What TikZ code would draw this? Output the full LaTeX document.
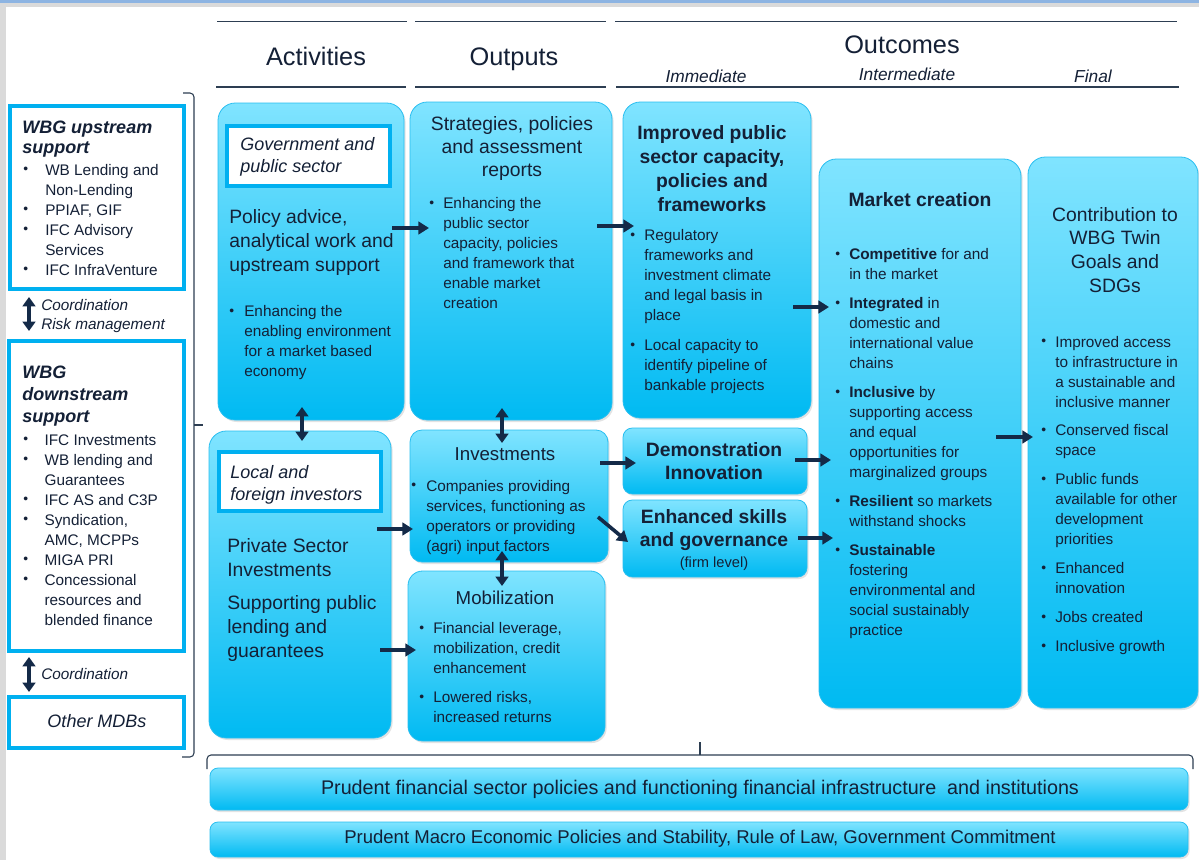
\documentclass[tikz,border=0pt]{standalone}
\usepackage{fontspec}
\usepackage{graphicx}
\setmainfont{Liberation Sans}
\usetikzlibrary{fit,shadows,arrows.meta}

\definecolor{ink}{RGB}{20,32,54}
\definecolor{arrowc}{RGB}{20,42,72}
\definecolor{framec}{RGB}{0,176,240}
\definecolor{boxtop}{RGB}{128,228,255}
\definecolor{boxbot}{RGB}{0,186,242}
\definecolor{boxline}{RGB}{40,190,240}
\definecolor{rulec}{RGB}{45,62,82}
\definecolor{graybg}{RGB}{218,218,218}
\definecolor{topblue}{RGB}{141,180,226}

\newcommand{\setfs}[2]{\fontsize{#1}{#2}\selectfont}
\newcommand{\sbul}{\raisebox{0.08em}{\scalebox{0.9}{\textbullet}}}
\newcommand{\blist}[2]{\def\bu{\makebox[#1][l]{\sbul}}\begin{tabular}[t]{@{}l@{}l@{}}#2\end{tabular}}
\newcommand{\tabl}[1]{\begin{tabular}[t]{@{}l@{}}#1\end{tabular}}
\newcommand{\tabc}[1]{\begin{tabular}[t]{@{}c@{}}#1\end{tabular}}

\tikzset{
  cbox/.style={rounded corners=11pt, draw=boxline, line width=0.6pt,
    top color=boxtop, bottom color=boxbot, inner sep=0pt,
    drop shadow={opacity=0.22, shadow xshift=1.2pt, shadow yshift=-1.5pt}},
  sbox/.style={cbox, rounded corners=7pt},
  frm/.style={draw=framec, line width=2.8pt, fill=white, inner sep=0pt},
  txt/.style={text=ink, inner sep=0pt},
  body/.style={txt, font=\setfs{11.5}{15}},
  arr/.style={draw=arrowc, line width=2.7pt, -{Triangle[length=8pt,width=9.5pt]}},
  darr/.style={draw=arrowc, line width=2.7pt, {Triangle[length=7pt,width=9.5pt]}-{Triangle[length=7pt,width=9.5pt]}},
  rul/.style={draw=rulec, line width=1.3pt},
  brk/.style={draw=rulec, line width=0.8pt}
}

\begin{document}
\begin{tikzpicture}[x=0.75pt,y=-0.75pt]
\useasboundingbox (0,0) rectangle (1199,860);
\fill[graybg] (0,0) rectangle (1199,860);
\fill[white] (6,7) rectangle (1199,860);
\fill[topblue] (0,0) rectangle (1199,3);

% ---------- header ----------
\draw[rul] (217,21.5) -- (407,21.5);
\draw[rul] (216,87) -- (406,87);
\draw[rul] (415,21.5) -- (606,21.5);
\draw[rul] (415,87) -- (606,87);
\draw[rul] (615,21.5) -- (1177,21.5);
\draw[rul] (616,87) -- (1179,87);
\node[txt, anchor=base, font=\setfs{19}{22}] (hAct) at (316,65) {Activities};
\node[txt, anchor=base, font=\setfs{19}{22}] (hOut) at (514,65) {Outputs};
\node[txt, anchor=base, font=\setfs{19}{22}] (hOc) at (902,53) {Outcomes};
\node[txt, anchor=base, font=\setfs{13}{15}\itshape] (hImm) at (706,82) {Immediate};
\node[txt, anchor=base, font=\setfs{13}{15}\itshape] (hInt) at (907,80) {Intermediate};
\node[txt, anchor=base, font=\setfs{13}{15}\itshape] (hFin) at (1093,82) {Final};

% ---------- left column ----------
\node[frm, fit={(10,106) (184,289)}] (up) {};
\node[txt, anchor=base west, font=\setfs{13.5}{15}\bfseries\itshape] (upT) at (22,133) {\tabl{WBG upstream\\support}};
\node[body, anchor=base west] (upL) at (23,175) {\blist{16.5pt}{\bu & WB Lending and\\ & Non-Lending\\ \bu & PPIAF, GIF\\ \bu & IFC Advisory\\ & Services\\ \bu & IFC InfraVenture}};

\node[frm, fit={(9,341) (184,651)}] (down) {};
\node[txt, anchor=base west, font=\setfs{13.5}{16.5}\bfseries\itshape] (downT) at (22,378) {\tabl{WBG\\downstream\\support}};
\node[body, anchor=base west] (downL) at (23,445) {\blist{16pt}{\bu & IFC Investments\\ \bu & WB lending and\\ & Guarantees\\ \bu & IFC AS and C3P\\ \bu & Syndication,\\ & AMC, MCPPs\\ \bu & MIGA PRI\\ \bu & Concessional\\ & resources and\\ & blended finance}};

\node[frm, fit={(9,697) (184,748)}] (mdb) {};
\node[txt, font=\setfs{13.5}{15}\itshape] (mdbT) at (97,721) {Other MDBs};

\coordinate (co1a) at (29,297);
\coordinate (co1b) at (29,331);
\draw[darr] (co1a) -- (co1b);
\node[txt, anchor=base west, font=\setfs{11.5}{14.5}\itshape] (co1T) at (41,310) {\tabl{Coordination\\Risk management}};
\coordinate (co2a) at (29,657);
\coordinate (co2b) at (29,692);
\draw[darr] (co2a) -- (co2b);
\node[txt, anchor=base west, font=\setfs{11.5}{14.5}\itshape] (co2T) at (41,679) {Coordination};

% bracket
\draw[brk, rounded corners=3pt] (183,93) -- (194,93) -- (194,757) -- (182,757);
\draw[brk] (194,425) -- (203,425);

% ---------- Activities ----------
\node[cbox, rounded corners=13pt, fit={(218,103) (404,420)}] (A1) {};
\node[frm, fit={(227,126) (390,186)}] (A1w) {};
\node[txt, anchor=base west, font=\setfs{13.5}{17}\itshape] (A1wT) at (240,150) {\tabl{Government and\\public sector}};
\node[txt, anchor=base west, font=\setfs{14.5}{18}] (A1T) at (229,223) {\tabl{Policy advice,\\analytical work and\\upstream support}};
\node[body, anchor=base west] (A1L) at (229,316.5) {\blist{11.25pt}{\bu & Enhancing the\\ & enabling environment\\ & for a market based\\ & economy}};

\node[cbox, rounded corners=13pt, fit={(209,431) (391,738)}] (A2) {};
\node[frm, fit={(219,452) (381,511)}] (A2w) {};
\node[txt, anchor=base west, font=\setfs{13.5}{17}\itshape] (A2wT) at (230,478) {\tabl{Local and\\foreign investors}};
\node[txt, anchor=base west, font=\setfs{14.5}{18}] (A2T1) at (227,552) {\tabl{Private Sector\\Investments}};
\node[txt, anchor=base west, font=\setfs{14.5}{18}] (A2T2) at (227,609) {\tabl{Supporting public\\lending and\\guarantees}};

% ---------- Outputs ----------
\node[cbox, rounded corners=13pt, fit={(410,102) (612,420)}] (B1) {};
\node[txt, anchor=base, font=\setfs{14.5}{17.6}] (B1T) at (512,130) {\tabc{Strategies, policies\\and assessment\\reports}};
\node[body, anchor=base west] (B1L) at (429,208.5) {\blist{10.5pt}{\bu & Enhancing the\\ & public sector\\ & capacity, policies\\ & and framework that\\ & enable market\\ & creation}};

\node[sbox, rounded corners=9pt, fit={(410,430) (608,562)}] (B2) {};
\node[txt, anchor=base, font=\setfs{14}{17}] (B2T) at (505,460) {Investments};
\node[body, anchor=base west] (B2L) at (411,491) {\blist{11.25pt}{\bu & Companies providing\\ & services, functioning as\\ & operators or providing\\ & (agri) input factors}};

\node[sbox, rounded corners=11pt, fit={(408,571) (605,741)}] (B3) {};
\node[txt, anchor=base, font=\setfs{14}{17}] (B3T) at (505,604) {Mobilization};
\node[body, anchor=base west] (B3L) at (419,633.5) {\blist{10.5pt}{\bu & Financial leverage,\\ & mobilization, credit\\ & enhancement\\[6.75pt] \bu & Lowered risks,\\ & increased returns}};

% ---------- Immediate ----------
\node[cbox, rounded corners=13pt, fit={(623,102) (811,418)}] (C1) {};
\node[txt, anchor=base, font=\setfs{14.5}{18}\bfseries] (C1T) at (712,139) {\tabc{Improved public\\sector capacity,\\policies and\\frameworks}};
\node[body, anchor=base west] (C1L) at (630,240.5) {\blist{10.5pt}{\bu & Regulatory\\ & frameworks and\\ & investment climate\\ & and legal basis in\\ & place\\[7.5pt] \bu & Local capacity to\\ & identify pipeline of\\ & bankable projects}};

\node[sbox, fit={(623,428) (807,494)}] (C2) {};
\node[txt, anchor=base, font=\setfs{14.5}{17.3}\bfseries] (C2T) at (714,456) {\tabc{Demonstration\\Innovation}};

\node[sbox, fit={(623,500) (807,577)}] (C3) {};
\node[txt, anchor=base, font=\setfs{14.5}{17.3}\bfseries] (C3T) at (714,523) {\tabc{Enhanced skills\\and governance}};
\node[txt, anchor=base, font=\setfs{11}{13}] (C3s) at (714,567) {(firm level)};

% ---------- Intermediate ----------
\node[cbox, rounded corners=13pt, fit={(819,159) (1021,708)}] (D) {};
\node[txt, anchor=base, font=\setfs{14.5}{17}\bfseries] (DT) at (920,206) {Market creation};
\node[body, anchor=base west] (DL) at (835,259.5) {\blist{10.5pt}{\bu & \textbf{Competitive} for and\\ & in the market\\[6.75pt]
 \bu & \textbf{Integrated} in\\ & domestic and\\ & international value\\ & chains\\[6.75pt]
 \bu & \textbf{Inclusive} by\\ & supporting access\\ & and equal\\ & opportunities for\\ & marginalized groups\\[6.75pt]
 \bu & \textbf{Resilient} so markets\\ & withstand shocks\\[6.75pt]
 \bu & \textbf{Sustainable}\\ & fostering\\ & environmental and\\ & social sustainably\\ & practice}};

% ---------- Final ----------
\node[cbox, rounded corners=13pt, fit={(1028,157) (1198,708)}] (E) {};
\node[txt, anchor=base, font=\setfs{14.5}{17.8}] (ET) at (1115,221) {\tabc{Contribution to\\WBG Twin\\Goals and\\SDGs}};
\node[body, anchor=base west] (EL) at (1041,347) {\blist{10.5pt}{\bu & Improved access\\ & to infrastructure in\\ & a sustainable and\\ & inclusive manner\\[6.5pt]
 \bu & Conserved fiscal\\ & space\\[6.75pt]
 \bu & Public funds\\ & available for other\\ & development\\ & priorities\\[6.75pt]
 \bu & Enhanced\\ & innovation\\[6.75pt]
 \bu & Jobs created\\[6.5pt]
 \bu & Inclusive growth}};

% ---------- bottom ----------
\draw[brk, rounded corners=3pt] (207,769) -- (207,755) -- (1193,755) -- (1193,769);
\draw[brk] (700,755) -- (700,742);
\node[sbox, rounded corners=6pt, fit={(210,768) (1188,810)}] (bar1) {};
\node[txt, font=\setfs{14.8}{16}] (bar1T) at (700,789) {Prudent financial sector policies and functioning financial infrastructure\ \ and institutions};
\node[sbox, rounded corners=6pt, fit={(210,822) (1188,857)}] (bar2) {};
\node[txt, font=\setfs{13.9}{15}] (bar2T) at (700,839) {Prudent Macro Economic Policies and Stability, Rule of Law, Government Commitment};

% ---------- arrows ----------
\coordinate (a1s) at (392,228);  \coordinate (a1e) at (429,228);
\coordinate (b1s) at (597,226);  \coordinate (b1e) at (634,226);
\coordinate (c1s) at (793,307);  \coordinate (c1e) at (829,307);
\coordinate (a2s) at (377,529);  \coordinate (a2e) at (413,529);
\coordinate (a3s) at (380,650);  \coordinate (a3e) at (416,650);
\coordinate (b2s) at (600,463);  \coordinate (b2e) at (636,463);
\coordinate (b2ds) at (598,517); \coordinate (b2de) at (628,542);
\coordinate (c2s) at (795,460);  \coordinate (c2e) at (831,460);
\coordinate (c3s) at (798,538);  \coordinate (c3e) at (833,538);
\coordinate (ds) at (996,437);   \coordinate (de) at (1033,437);
\draw[arr] (a1s) -- (a1e);
\draw[arr] (b1s) -- (b1e);
\draw[arr] (c1s) -- (c1e);
\draw[arr] (a2s) -- (a2e);
\draw[arr] (a3s) -- (a3e);
\draw[arr] (b2s) -- (b2e);
\draw[arr] (b2ds) -- (b2de);
\draw[arr] (c2s) -- (c2e);
\draw[arr] (c3s) -- (c3e);
\draw[arr] (ds) -- (de);

\coordinate (v1a) at (302,407); \coordinate (v1b) at (302,441);
\coordinate (v2a) at (502,408); \coordinate (v2b) at (502,443);
\coordinate (v3a) at (502,551); \coordinate (v3b) at (502,586);
\draw[darr] (v1a) -- (v1b);
\draw[darr] (v2a) -- (v2b);
\draw[darr] (v3a) -- (v3b);
\end{tikzpicture}
\end{document}
